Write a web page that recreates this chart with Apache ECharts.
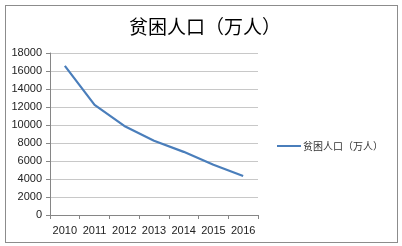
<!DOCTYPE html>
<html><head><meta charset="utf-8">
<script src="https://cdn.jsdelivr.net/npm/echarts@6/dist/echarts.min.js"></script>
<style>
html,body{margin:0;padding:0;background:#fff;}
#frame{position:absolute;left:5px;top:5px;width:393px;height:238px;border:1px solid #8c8c8c;box-sizing:border-box;}
#c{position:absolute;left:0;top:0;width:402px;height:246px;}
</style></head>
<body>
<div id="frame"></div>
<div id="c"></div>
<script>
var titleText = '贫困人口（万人）';
var seriesName = '贫困人口（万人）';
var years = ['2010','2011','2012','2013','2014','2015','2016'];
var poverty = [16567, 12238, 9899, 8249, 7017, 5575, 4335];

var chart = echarts.init(document.getElementById('c'), null, {renderer:'canvas'});
chart.setOption({
  animation:false,
  textStyle:{fontFamily:'"Noto Sans CJK SC", "Liberation Sans", sans-serif'},
  title:{text:titleText,left:200,textAlign:'center',top:12,
    textStyle:{fontSize:19,fontWeight:'normal',color:'#000',fontFamily:'"Noto Sans CJK SC", sans-serif'}},
  legend:{left:272,top:136,itemWidth:24,itemHeight:10,itemGap:4,icon:'path://M0,4 L24,4 L24,6 L0,6 Z',
    data:[{name:seriesName}],
    textStyle:{fontSize:10,color:'#333',padding:[0,0,0,-3]}},
  grid:{left:50,top:53,right:144,bottom:31,containLabel:false},
  xAxis:{type:'category',data:years,boundaryGap:true,
    axisLine:{lineStyle:{color:'#868686'}},
    axisTick:{show:true,alignWithLabel:false,length:4,lineStyle:{color:'#868686'}},
    axisLabel:{interval:0,fontSize:11,color:'#222',margin:10,fontFamily:'"Liberation Sans", sans-serif'}},
  yAxis:{type:'value',min:0,max:18000,interval:2000,
    axisLine:{show:true,lineStyle:{color:'#868686'}},
    axisTick:{show:true,length:4,inside:false,lineStyle:{color:'#868686'}},
    splitLine:{lineStyle:{color:'#c8c8c8'}},
    axisLabel:{fontSize:11,color:'#222',margin:8,formatter:function(v){return String(v);},fontFamily:'"Liberation Sans", sans-serif'}},
  series:[{name:seriesName,type:'line',data:poverty,symbol:'none',
    lineStyle:{color:'#4a7ebb',width:2.2},itemStyle:{color:'#4a7ebb'}}]
});
</script>
</body></html>
